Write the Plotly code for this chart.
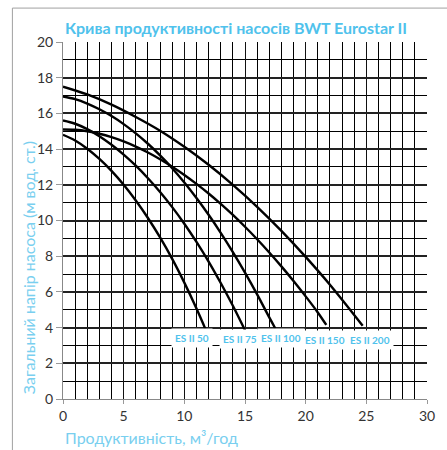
import plotly.graph_objects as go

# ---- data ----
series_names = ["ES II 50", "ES II 75", "ES II 100", "ES II 150", "ES II 200"]

es50_x = [0, 1, 2, 3, 4, 5, 6, 7, 8, 9, 10, 11, 11.75]
es50_y = [14.8, 14.48, 14.02, 13.45, 12.78, 12.0, 11.12, 10.14, 9.05, 7.85, 6.52, 5.07, 3.9]

es75_x = [0, 1, 2, 3, 4, 5, 6, 7, 8, 9, 10, 11, 12, 13, 14, 15]
es75_y = [15.6, 15.42, 15.12, 14.72, 14.24, 13.69, 13.07, 12.37, 11.6, 10.75, 9.82, 8.8, 7.7, 6.5, 5.22, 3.85]

es100_x = [0, 1, 2, 3, 4, 5, 6, 7, 8, 9, 10, 11, 12, 13, 14, 15, 16, 17, 17.5]
es100_y = [16.95, 16.8, 16.55, 16.23, 15.85, 15.4, 14.88, 14.3, 13.65, 12.93, 12.13, 11.26, 10.32, 9.31, 8.23, 7.08, 5.86, 4.57, 3.95]

es150_x = [0, 1, 2, 3, 4, 5, 6, 7, 8, 9, 10, 11, 12, 13, 14, 15, 16, 17, 18, 19, 20, 21, 21.7]
es150_y = [15.1, 15.08, 15.0, 14.86, 14.67, 14.43, 14.14, 13.81, 13.43, 13.01, 12.55, 12.05, 11.51, 10.93, 10.31, 9.65, 8.95, 8.21, 7.43, 6.61, 5.75, 4.85, 4.15]

es200_x = [0, 2, 4, 6, 8, 10, 12, 14, 16, 18, 20, 22, 24.7]
es200_y = [17.5, 17.06, 16.49, 15.8, 15.03, 14.13, 13.12, 12.0, 10.77, 9.42, 7.96, 6.4, 4.1]

x_tick_vals = [0, 5, 10, 15, 20, 25, 30]
y_tick_vals = [0, 2, 4, 6, 8, 10, 12, 14, 16, 18, 20]

title_text = "Крива продуктивності насосів BWT Eurostar II"
x_title = "Продуктивність, м³/год"
y_title = "Загальний напір насоса (м вод. ст.)"

# ---- styling / layout positions ----
label_pos = [(10.6, 3.43), (14.6, 3.34), (18.0, 3.43), (21.6, 3.3), (25.3, 3.3)]
CYAN = "#4fc2ec"
CYAN_LIGHT = "#79cfef"
FONT = "Lato"

fig = go.Figure()
for name, xs, ys in zip(series_names,
                        [es50_x, es75_x, es100_x, es150_x, es200_x],
                        [es50_y, es75_y, es100_y, es150_y, es200_y]):
    fig.add_trace(go.Scatter(x=xs, y=ys, mode="lines", name=name,
                             line=dict(color="black", width=2.4, shape="spline", smoothing=1.0),
                             showlegend=False, hoverinfo="skip"))

for name, (lx, ly) in zip(series_names, label_pos):
    fig.add_annotation(x=lx, y=ly, xref="x", yref="y", text=name, showarrow=False,
                       font=dict(family=FONT, size=10, color=CYAN, weight="bold"),
                       bgcolor="white", borderpad=3)

fig.add_annotation(x=0.474, y=1.042, xref="paper", yref="paper", text=title_text,
                   showarrow=False, xanchor="center", yanchor="middle",
                   font=dict(family=FONT, size=16, color=CYAN, weight="bold"))
fig.add_annotation(x=0.0, y=-0.109, xref="paper", yref="paper", text=x_title,
                   showarrow=False, xanchor="left", yanchor="middle",
                   font=dict(family=FONT, size=16, color=CYAN_LIGHT))
fig.add_annotation(x=-0.093, y=0.367, xref="paper", yref="paper", text=y_title,
                   showarrow=False, xanchor="center", yanchor="middle", textangle=-90,
                   font=dict(family=FONT, size=16, color=CYAN_LIGHT))

# outer frame (partly visible)
fig.add_shape(type="line", xref="paper", yref="paper", x0=-0.139, x1=-0.139, y0=-0.2, y1=1.095,
              line=dict(color="#a0a0a0", width=1))
fig.add_shape(type="line", xref="paper", yref="paper", x0=-0.139, x1=1.2, y0=1.095, y1=1.095,
              line=dict(color="#a0a0a0", width=1))

fig.update_layout(
    width=447, height=450, autosize=False,
    margin=dict(l=63, r=17, t=42, b=51),
    paper_bgcolor="white", plot_bgcolor="white",
    font=dict(family=FONT, size=14, color="#333333"),
    xaxis=dict(range=[0, 30], tickvals=x_tick_vals, ticks="outside", ticklen=4,
               tickcolor="#999999", showgrid=True, gridcolor="#111111", gridwidth=1.2,
               minor=dict(dtick=1, showgrid=True, gridcolor="#000000", gridwidth=1),
               showline=True, linecolor="#888888", linewidth=1, zeroline=False,
               tickfont=dict(family=FONT, size=14, color="#333333"), fixedrange=True),
    yaxis=dict(range=[0, 20], tickvals=y_tick_vals, ticks="outside", ticklen=6,
               tickcolor="#999999", showgrid=True, gridcolor="#222222", gridwidth=1.5,
               minor=dict(dtick=1, showgrid=True, gridcolor="#000000", gridwidth=1),
               showline=True, linecolor="#888888", linewidth=1, zeroline=False,
               tickfont=dict(family=FONT, size=14, color="#333333"), fixedrange=True),
)

fig.write_html("out.html", config={"displayModeBar": False},
               post_script="document.body.style.margin='0';")
